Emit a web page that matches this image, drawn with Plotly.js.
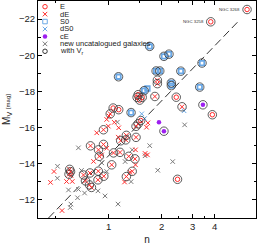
<!DOCTYPE html>
<html><head><meta charset="utf-8">
<script src="https://cdn.plot.ly/plotly-3.0.1.min.js"></script>
<style>html,body{margin:0;padding:0;background:#fff}#c{width:258px;height:246px}</style>
</head><body><div id="c"></div>
<script>
// ---- data (Sersic index n, absolute magnitude M_V, with radial velocity flag) ----
const E_n  = [6.11, 3.80, 2.42, 3.88, 2.46, 1.47, 1.45, 1.50, 1.55, 1.52, 1.06, 1.14];
const E_M  = [-22.53, -21.85, -17.68, -16.71, -13.14, -17.82, -17.67, -17.52, -17.67, -16.39, -17.08, -16.99];
const E_vr = [1,1,1,1,1,1,1,1,1,1,1,1];

const dE_n  = [1.89, 1.89, 1.83, 2.61, 1.02, 0.934, 1.43, 1.47, 1.43, 1.26, 1.25, 1.17, 0.788, 0.934, 0.875, 0.884, 1.065, 1.16, 1.30, 1.41, 1.04, 1.36, 1.26, 0.600, 0.607, 0.595, 0.783, 0.873, 0.719, 0.938, 0.738, 0.869, 0.778, 0.798,
               1.004, 0.974, 1.076, 0.995, 1.14, 0.855, 1.134, 1.67, 1.64, 0.974, 0.912, 0.820, 1.42, 1.61, 1.66, 1.42, 1.32, 1.23, 0.489, 0.467, 0.576, 0.621, 0.610, 0.543];
const dE_M  = [-18.62, -18.43, -17.72, -17.15, -16.76, -15.88, -16.07, -16.21, -15.46, -15.57, -15.32, -15.27, -14.99, -15.07, -14.77, -14.41, -14.60, -14.63, -14.41, -14.27, -13.94, -13.58, -13.29, -13.69, -13.56, -13.42, -13.49, -13.59, -13.38, -13.31, -13.05, -13.11, -12.83, -12.69,
               -16.64, -16.45, -16.29, -16.08, -15.99, -15.71, -15.47, -16.26, -16.02, -14.86, -14.49, -14.13, -14.77, -14.57, -14.49, -13.94, -13.53, -12.99, -13.57, -12.97, -13.02, -13.02, -13.35, -11.41];
const dE_vr = [1,1,1,1,1,1,1,1,1,1,1,1,1,1,1,1,1,1,1,1,1,1,1,1,1,1,1,1,1,1,1,1,1,1,
               0,0,0,0,0,0,0,0,0,0,0,0,0,0,0,0,0,0,0,0,0,0,0,0];

const S0_n  = [1.71, 2.06, 2.20, 3.39, 1.86, 1.95, 2.57, 2.27, 2.27, 3.29, 1.59, 1.137, 1.34, 1.66];
const S0_M  = [-20.49, -19.94, -20.06, -19.57, -19.13, -19.13, -19.12, -18.47, -18.32, -18.24, -18.04, -18.81, -16.83, -18.16];
const S0_vr = [1,1,1,1,1,1,1,1,1,1,1,1,1,0];

const dS0_n  = [1.54, 1.60, 2.68];
const dS0_M  = [-16.76, -16.50, -16.93];
const dS0_vr = [0,0,0];

const cE_n  = [1.93, 2.06, 3.43];
const cE_M  = [-16.29, -15.80, -17.26];
const cE_vr = [0,1,1];

const new_n  = [1.12, 1.71, 1.61, 1.36, 2.31, 1.90, 2.70, 1.24, 1.34, 1.13, 0.673, 0.512, 0.511, 0.70, 0.913, 0.974, 0.591, 0.673, 0.729, 0.665, 0.610, 0.605, 0.869, 0.953];
const new_M  = [-16.30, -15.00, -14.44, -14.77, -14.12, -13.64, -16.15, -14.12, -13.01, -11.77, -14.88, -13.86, -13.20, -13.63, -14.05, -13.57, -12.55, -12.58, -12.38, -12.12, -11.77, -11.58, -12.50, -12.22];
const new_vr = new Array(new_n.length).fill(0);

// dashed relation
const line_n = [0.455, 5.43];
const line_M = [-11.0, -21.86];

const xTickVals = [1, 2, 3, 4];
const xTickText = ['1', '2', '3', '4'];
const xMinorVals = [0.5, 1.5, 2.5, 3.5];
const yTickVals = [-22, -20, -18, -16, -14, -12];

const labels = [
  {n: 6.11, M: -22.53, text: 'NGC 3268'},
  {n: 3.80, M: -21.85, text: 'NGC 3258'}
];

// ---- styles ----
const RED = '#ff2b2b', BLUE = '#6aa8e6', GRAY = '#7a7a7a', PURPLE = '#9d1ff0', RING = '#333333';

function pick(arrN, arrM, flags) {
  const xs = [], ys = [];
  flags.forEach((f, i) => { if (f) { xs.push(arrN[i]); ys.push(arrM[i]); } });
  return [xs, ys];
}
const ringSets = [[E_n,E_M,E_vr],[dE_n,dE_M,dE_vr],[S0_n,S0_M,S0_vr],[dS0_n,dS0_M,dS0_vr],[cE_n,cE_M,cE_vr],[new_n,new_M,new_vr]];
let ringX = [], ringY = [];
ringSets.forEach(s => { const [a,b] = pick(s[0], s[1], s[2]); ringX = ringX.concat(a); ringY = ringY.concat(b); });

const traces = [
  {x: line_n, y: line_M, mode: 'lines', line: {color: '#333', width: 1, dash: '8px,4px'}, hoverinfo: 'skip'},
  {x: new_n, y: new_M, mode: 'markers', marker: {symbol: 'x-thin-open', size: 4.5, color: GRAY, line: {width: 1, color: GRAY}}},
  {x: dE_n, y: dE_M, mode: 'markers', marker: {symbol: 'x-thin-open', size: 4.5, color: RED, line: {width: 1, color: RED}}},
  {x: E_n, y: E_M, mode: 'markers', marker: {symbol: 'circle-open', size: 4.5, color: RED, line: {width: 1, color: RED}}},
  {x: S0_n, y: S0_M, mode: 'markers', marker: {symbol: 'square-open', size: 4.5, color: BLUE, line: {width: 1.8, color: BLUE}}},
  {x: dS0_n, y: dS0_M, mode: 'markers', marker: {symbol: 'x-thin-open', size: 4.5, color: BLUE, line: {width: 1, color: BLUE}}},
  {x: cE_n, y: cE_M, mode: 'markers', marker: {symbol: 'circle', size: 4.5, color: PURPLE}},
  {x: ringX, y: ringY, mode: 'markers', marker: {symbol: 'circle-open', size: 8.5, color: RING, line: {width: 0.8, color: RING}}}
];

// manual legend (pixel coordinates on overlay axes)
const legItems = [
  {t: 'E', sym: 'circle-open', c: RED, w: 1},
  {t: 'dE', sym: 'x-thin-open', c: RED, w: 1},
  {t: 'S0', sym: 'square-open', c: BLUE, w: 1},
  {t: 'dS0', sym: 'x-thin-open', c: BLUE, w: 1},
  {t: 'cE', sym: 'circle', c: PURPLE, w: 0},
  {t: 'new uncatalogued galaxies', sym: 'x-thin-open', c: GRAY, w: 1},
  {t: 'with V<sub>r</sub>', sym: 'circle-open', c: RING, w: 1}
];
const legY0 = 6.7, legDY = 7.43, legMX = 45, legTX = 58.5;
const annotations = [];
legItems.forEach((it, i) => {
  const y = legY0 + i * legDY;
  traces.push({x: [legMX], y: [y], xaxis: 'x2', yaxis: 'y2', mode: 'markers',
    marker: {symbol: it.sym, size: 4.5, color: it.c, line: {width: it.w, color: it.c}}, hoverinfo: 'skip'});
  annotations.push({xref: 'x2', yref: 'y2', x: legTX, y: y, text: it.t, showarrow: false, borderpad: 0,
    xanchor: 'left', yanchor: 'middle', font: {size: 7.5, color: '#222', family: 'Liberation Sans, Arial, sans-serif'}});
});
labels.forEach(l => {
  annotations.push({xref: 'x', yref: 'y', x: Math.log10(l.n), y: l.M, text: l.text, showarrow: false, borderpad: 0,
    xanchor: 'right', yanchor: 'middle', xshift: -6, font: {size: 4.3, color: '#333', family: 'Liberation Sans, Arial, sans-serif'}});
});

const axisCommon = {showline: true, linecolor: '#000', linewidth: 1, mirror: 'allticks', ticks: 'inside',
  tickcolor: '#000', showgrid: false, zeroline: false, tickfont: {size: 9.5, color: '#222'}};

const layout = {
  width: 258, height: 246,
  margin: {l: 38, r: 2, t: 1, b: 28},
  paper_bgcolor: '#fff', plot_bgcolor: '#fff',
  showlegend: false,
  font: {family: 'Liberation Sans, Arial, sans-serif', color: '#222'},
  xaxis: Object.assign({}, axisCommon, {
    type: 'log', range: [-0.4017, 0.8369], tickmode: 'array', tickvals: xTickVals, ticktext: xTickText,
    ticklen: 4, minor: {tickmode: 'array', tickvals: xMinorVals, ticks: 'inside', ticklen: 2, tickcolor: '#000'},
    title: {text: 'n', font: {size: 10}, standoff: 4}
  }),
  yaxis: Object.assign({}, axisCommon, {
    range: [-11, -23], tickmode: 'array', tickvals: yTickVals, ticklen: 4,
    minor: {dtick: 1, ticks: 'inside', ticklen: 2.5, tickcolor: '#000'},
    title: {text: "M<sub>V</sub> <span style='font-size:6px'>[mag]</span>", font: {size: 10}, standoff: 6}
  }),
  xaxis2: {overlaying: 'x', range: [38, 256], visible: false, fixedrange: true},
  yaxis2: {overlaying: 'y', range: [218, 1], visible: false, fixedrange: true},
  annotations: annotations
};

Plotly.newPlot('c', traces, layout, {staticPlot: true, displayModeBar: false});
</script></body></html>
